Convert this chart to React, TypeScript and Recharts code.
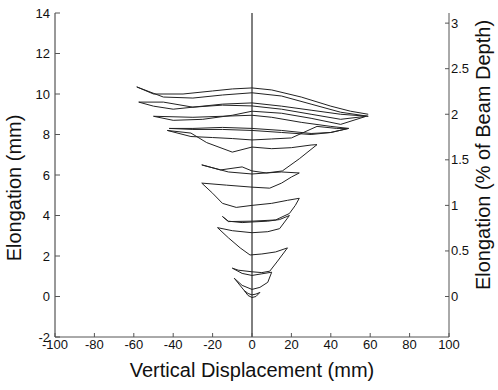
import React from "react";
import {
  ComposedChart,
  Line,
  XAxis,
  YAxis,
  ReferenceLine,
  Label,
} from "recharts";

const cycle1 = [
  [-4, 0.3], [-2, 0.05], [0, -0.05], [2, 0.0], [4, 0.2],
  [2, 0.12], [0, 0.08], [-2, 0.15], [-4, 0.3],
];
const cycle2 = [
  [-4, 0.3], [-9, 0.9], [-5, 0.55], [0, 0.35], [4, 0.45], [8, 0.7],
  [10, 1.2], [5, 1.12], [0, 1.04], [-5, 1.14], [-10, 1.4], [-7, 1.3],
  [0, 1.22], [5, 1.18], [9, 1.25],
];
const cycle3 = [
  [9, 1.25], [13, 1.75], [18, 2.4], [12, 2.2], [5, 2.1], [-1, 2.05],
  [-6, 2.4], [-12, 2.9], [-17.5, 3.4], [-10, 3.25], [0, 3.15], [8, 3.2],
  [14, 3.35], [19, 4.0], [14, 3.8], [8, 3.72], [0, 3.68], [-5, 3.65],
  [-12, 3.72], [-15, 3.95],
];
const cycle4 = [
  [-15, 3.95], [-12, 3.7], [0, 3.72], [12, 3.78], [19, 4.1], [22, 4.5],
  [24, 4.85], [18, 4.75], [10, 4.6], [0, 4.5], [-8, 4.4], [-15, 4.6],
  [-20, 5.1], [-25.5, 5.6], [-13, 5.5], [0, 5.4], [9, 5.35], [15, 5.6],
  [20, 5.9], [24, 6.1], [15, 6.15], [7, 6.1], [0, 6.05], [-12, 6.15],
  [-25.5, 6.5], [-16, 6.25], [-5, 6.4], [0, 6.2], [7.3, 6.1], [15.4, 6.2],
  [24, 6.8], [33, 7.5],
];
const cycle5 = [
  [33, 7.5], [30, 7.48], [20, 7.35], [10, 7.3], [0, 7.38], [-10, 7.13],
  [-23, 7.6], [-31, 8.07], [-43, 8.2], [-31, 7.9], [-20, 7.85],
  [-10, 7.8], [0, 7.73], [10, 7.78], [20, 7.83], [33, 8.4], [43, 8.3],
  [49, 8.3],
];
const cycle6 = [
  [49, 8.3], [40, 8.1], [30, 8.05], [15, 8.2], [0, 8.3], [-15, 8.35],
  [-30, 8.3], [-42, 8.3], [-30, 8.25], [-15, 8.25], [0, 8.2], [15, 8.1],
  [30, 8.0], [40, 8.1], [49, 8.3], [40, 8.4], [25, 8.6], [10, 8.85],
  [0, 8.95], [-15, 8.9], [-30, 8.85], [-50, 8.9], [-40, 8.7], [-25, 8.75],
  [-10, 8.95], [0, 9.15], [15, 9.05], [30, 8.8], [45, 8.5], [58, 8.9],
];
const cycle7 = [
  [58, 8.9], [45, 8.75], [30, 9.0], [15, 9.25], [0, 9.41], [-15, 9.45],
  [-30, 9.35], [-45, 9.6], [-57.5, 9.6], [-50, 9.4], [-40, 9.25],
  [-30, 9.35], [-15, 9.5], [0, 9.56], [15, 9.4], [30, 9.2], [45, 9.0],
  [59, 8.9], [45, 9.1], [30, 9.5], [15, 9.9], [0, 10.06], [-15, 9.95],
  [-30, 9.8], [-45, 9.85], [-58.5, 10.35], [-50, 10.0], [-35, 10.0],
  [-20, 10.15], [-10, 10.25], [0, 10.3], [10, 10.2], [25, 9.85],
  [40, 9.4], [50, 9.15], [59, 9.0],
];

const cycles = [cycle1, cycle2, cycle3, cycle4, cycle5, cycle6, cycle7];

const xTicks = [-100, -80, -60, -40, -20, 0, 20, 40, 60, 80, 100];
const yTicks = [-2, 0, 2, 4, 6, 8, 10, 12, 14];
const pctTicks = [0, 0.5, 1, 1.5, 2, 2.5, 3];
const yDomain = [-2, 14];
const beamDepth = 450; // mm

const FONT = "'Liberation Sans', Arial, sans-serif";
const AXIS = "#555";

const LeftTick = ({ x, y, payload }: any) => (
  <g>
    <line x1={x + 5} x2={x + 10} y1={y} y2={y} stroke={AXIS} />
    <text x={x} y={y} dy={4.5} textAnchor="end" fontSize={13} fill="#111" fontFamily={FONT}>
      {payload.value}
    </text>
  </g>
);

const RightTick = ({ x, y, payload }: any) => (
  <g>
    <line x1={x - 2} x2={x - 6} y1={y} y2={y} stroke={AXIS} />
    <text x={x} y={y} dy={4.5} textAnchor="start" fontSize={13} fill="#111" fontFamily={FONT}>
      {payload.value}
    </text>
  </g>
);

const BottomTick = ({ x, y, payload }: any) => (
  <g>
    <line x1={x} x2={x} y1={y - 2} y2={y - 6} stroke={AXIS} />
    <text x={x} y={y} dy={10} textAnchor="middle" fontSize={13} fill="#111" fontFamily={FONT}>
      {payload.value}
    </text>
  </g>
);

export default function App() {
  return (
    <div style={{ position: "fixed", left: 0, top: 0, background: "#fff" }}>
      <ComposedChart
        width={498}
        height={390}
        margin={{ top: 13, right: 0, bottom: 0, left: 0 }}
      >
        <XAxis
          type="number"
          dataKey="x"
          domain={[-100, 100]}
          ticks={xTicks}
          interval={0}
          tickSize={0}
          tickMargin={2}
          height={53}
          stroke={AXIS}
          tick={<BottomTick />}
          allowDataOverflow
        >
          <Label
            value="Vertical Displacement (mm)"
            position="insideBottom"
            offset={13}
            fontSize={20}
            fill="#111"
            fontFamily={FONT}
          />
        </XAxis>
        <YAxis
          yAxisId="left"
          type="number"
          domain={yDomain}
          ticks={yTicks}
          interval={0}
          tickSize={0}
          tickMargin={5}
          width={55}
          stroke="#333"
          tick={<LeftTick />}
          allowDataOverflow
        >
          <Label
            content={() => (
              <text
                x={14}
                y={188}
                transform="rotate(-90 14 188)"
                textAnchor="middle"
                dominantBaseline="central"
                fontSize={20}
                fill="#111"
                fontFamily={FONT}
              >
                Elongation (mm)
              </text>
            )}
          />
        </YAxis>
        <YAxis
          yAxisId="right"
          orientation="right"
          type="number"
          domain={[yDomain[0] / (beamDepth / 100), yDomain[1] / (beamDepth / 100)]}
          ticks={pctTicks}
          interval={0}
          tickSize={0}
          tickMargin={2}
          width={49}
          stroke={AXIS}
          tick={<RightTick />}
          allowDataOverflow
        >
          <Label
            content={() => (
              <text
                x={483}
                y={155}
                transform="rotate(-90 483 155)"
                textAnchor="middle"
                dominantBaseline="central"
                fontSize={20}
                fill="#111"
                fontFamily={FONT}
              >
                Elongation (% of Beam Depth)
              </text>
            )}
          />
        </YAxis>
        <ReferenceLine x={0} yAxisId="left" stroke="#000" strokeWidth={1} />
        {cycles.map((c, i) => (
          <Line
            key={i}
            yAxisId="left"
            data={c.map(([x, y]) => ({ x, y }))}
            dataKey="y"
            type="linear"
            stroke="#222"
            strokeWidth={1}
            dot={false}
            isAnimationActive={false}
          />
        ))}
      </ComposedChart>
    </div>
  );
}
